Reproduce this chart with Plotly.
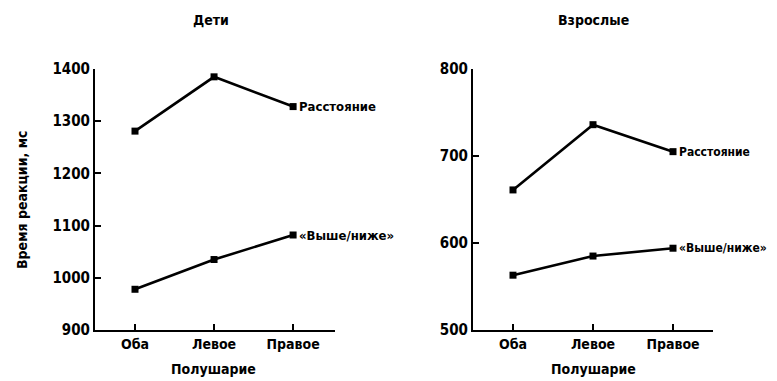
import plotly.graph_objects as go

categories = ["Оба", "Левое", "Правое"]
children_distance = [1281, 1385, 1328]
children_updown = [978, 1035, 1082]
adults_distance = [661, 736, 705]
adults_updown = [563, 585, 594]
children_yticks = [900, 1000, 1100, 1200, 1300, 1400]
adults_yticks = [500, 600, 700, 800]
series_names = ["Расстояние", "«Выше/ниже»"]
panel_titles = ["Дети", "Взрослые"]
x_title = "Полушарие"
y_title = "Время реакции, мс"

OFF = 8  # page body margin
W, H = 777 - OFF, 381 - OFF
FONT = "DejaVu Sans Condensed, Liberation Sans Narrow, sans-serif"

def px(x):
    return (x - OFF) / W

def py(y):
    return 1 - (y - OFF) / H

def b(s):
    return "<b>" + s + "</b>"

fig = go.Figure()
xs = [0, 1, 2]
line = dict(color="black", width=2.6)
marker = dict(symbol="square", size=7, color="black")

for xa, ya, series, fs in [("x", "y", [children_distance, children_updown], 13),
                           ("x2", "y2", [adults_distance, adults_updown], 12)]:
    for name, vals in zip(series_names, series):
        fig.add_trace(go.Scatter(x=xs, y=vals, mode="lines+markers", name=name,
                                 line=line, marker=marker, xaxis=xa, yaxis=ya,
                                 showlegend=False, cliponaxis=False))
        fig.add_annotation(x=2, y=vals[-1], xref=xa, yref=ya, text=b(name),
                           showarrow=False, xanchor="left", yanchor="middle", xshift=4,
                           font=dict(family=FONT, size=fs, color="black"))

ydom = [py(330), py(69)]
axis_common = dict(showline=True, linecolor="black", linewidth=2, ticks="inside",
                   ticklen=6, tickwidth=2, tickcolor="black", showgrid=False,
                   zeroline=False, automargin=False)
ytickfont = dict(family=FONT, size=15, color="black")
xtickfont = dict(family=FONT, size=14, color="black")

fig.update_layout(
    template="none",
    width=W, height=H, margin=dict(l=0, r=0, t=0, b=0),
    paper_bgcolor="white", plot_bgcolor="white",
    xaxis=dict(domain=[px(95), px(335)], range=[-0.506, 2.53], anchor="y",
               tickvals=xs, ticktext=[b(c) for c in categories], tickfont=xtickfont, **axis_common),
    yaxis=dict(domain=ydom, range=[900, 1400], anchor="x", tickvals=children_yticks,
               ticktext=[b(str(v)) for v in children_yticks], tickfont=ytickfont, **axis_common),
    xaxis2=dict(domain=[px(473), px(713)], range=[-0.5, 2.5], anchor="y2",
                tickvals=xs, ticktext=[b(c) for c in categories], tickfont=xtickfont, **axis_common),
    yaxis2=dict(domain=ydom, range=[500, 800], anchor="x2", tickvals=adults_yticks,
                ticktext=[b(str(v)) for v in adults_yticks], tickfont=ytickfont, **axis_common),
)

for t, x in zip(panel_titles, [211, 593]):
    fig.add_annotation(x=px(x), y=py(20), xref="paper", yref="paper", text=b(t),
                       xanchor="center", yanchor="middle",
                       showarrow=False, font=dict(family=FONT, size=14, color="black"))
for x in [213, 593]:
    fig.add_annotation(x=px(x), y=py(369), xref="paper", yref="paper", text=b(x_title),
                       xanchor="center", yanchor="middle",
                       showarrow=False, font=dict(family=FONT, size=14, color="black"))
fig.add_annotation(x=px(22), y=py(200), xref="paper", yref="paper", text=b(y_title),
                   xanchor="center", yanchor="middle",
                   textangle=-90, showarrow=False, font=dict(family=FONT, size=14, color="black"))

fig.write_html("out.html")
